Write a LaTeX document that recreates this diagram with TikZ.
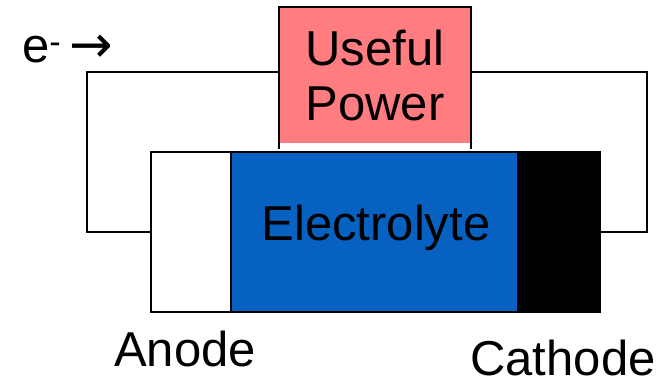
\documentclass[tikz,border=0pt]{standalone}
\usepackage{fontspec}
\setmainfont{Liberation Sans}
\newfontfamily\arrowfont{DejaVu Sans}
\usepackage{tikz}
\usepackage{xcolor}

\definecolor{powerpink}{RGB}{255,124,128}
\definecolor{electroblue}{RGB}{6,97,192}

\tikzset{
  wire/.style={line width=1.8pt},
  bigtext/.style={inner sep=0pt, font=\fontsize{49}{55}\selectfont},
  cellpart/.style={draw, line width=1.8pt, inner sep=0pt, outer sep=0pt, anchor=north west, minimum height=160pt},
}

\begin{document}
\begin{tikzpicture}[x=1pt,y=1pt,yscale=-1,xscale=1]
\useasboundingbox (0,0) rectangle (664,385);

%Shape: Useful Power box
\node [fill=powerpink, bigtext, align=center, minimum width=192pt, minimum height=136pt] (power) at (375,75) {Useful\\Power};
\draw [wire] ([yshift=6pt]power.south west) |- (power.north east) -- ([yshift=6pt]power.south east);

%Shape: cell parts
\node [cellpart, fill=white, minimum width=80pt] (anode) at (151,152) {};
\node [cellpart, fill=electroblue, minimum width=287pt] (electrolyte) at (anode.north east) {};
\node [cellpart, fill=black, minimum width=82pt] (cathode) at (electrolyte.north east) {};

%Straight Lines: external circuit
\coordinate (lt) at (87,72);
\coordinate (rt) at (647,72);
\draw [wire] (anode.west) -| (lt) -- (lt -| power.west);
\draw [wire] (cathode.east) -| (rt) -- (rt -| power.east);

% Text Node
\node [bigtext, anchor=base] (elabel) at (376,240) {Electrolyte};
% Text Node
\node [bigtext, anchor=base] (alabel) at (185,366) {Anode};
% Text Node
\node [bigtext, anchor=base] (clabel) at (563,375) {Cathode};
% Text Node
\node [bigtext, anchor=base west] (electron) at (22,63) {e\textsuperscript{-}\,{\arrowfont\fontsize{52}{52}\selectfont →}};

\end{tikzpicture}
\end{document}
